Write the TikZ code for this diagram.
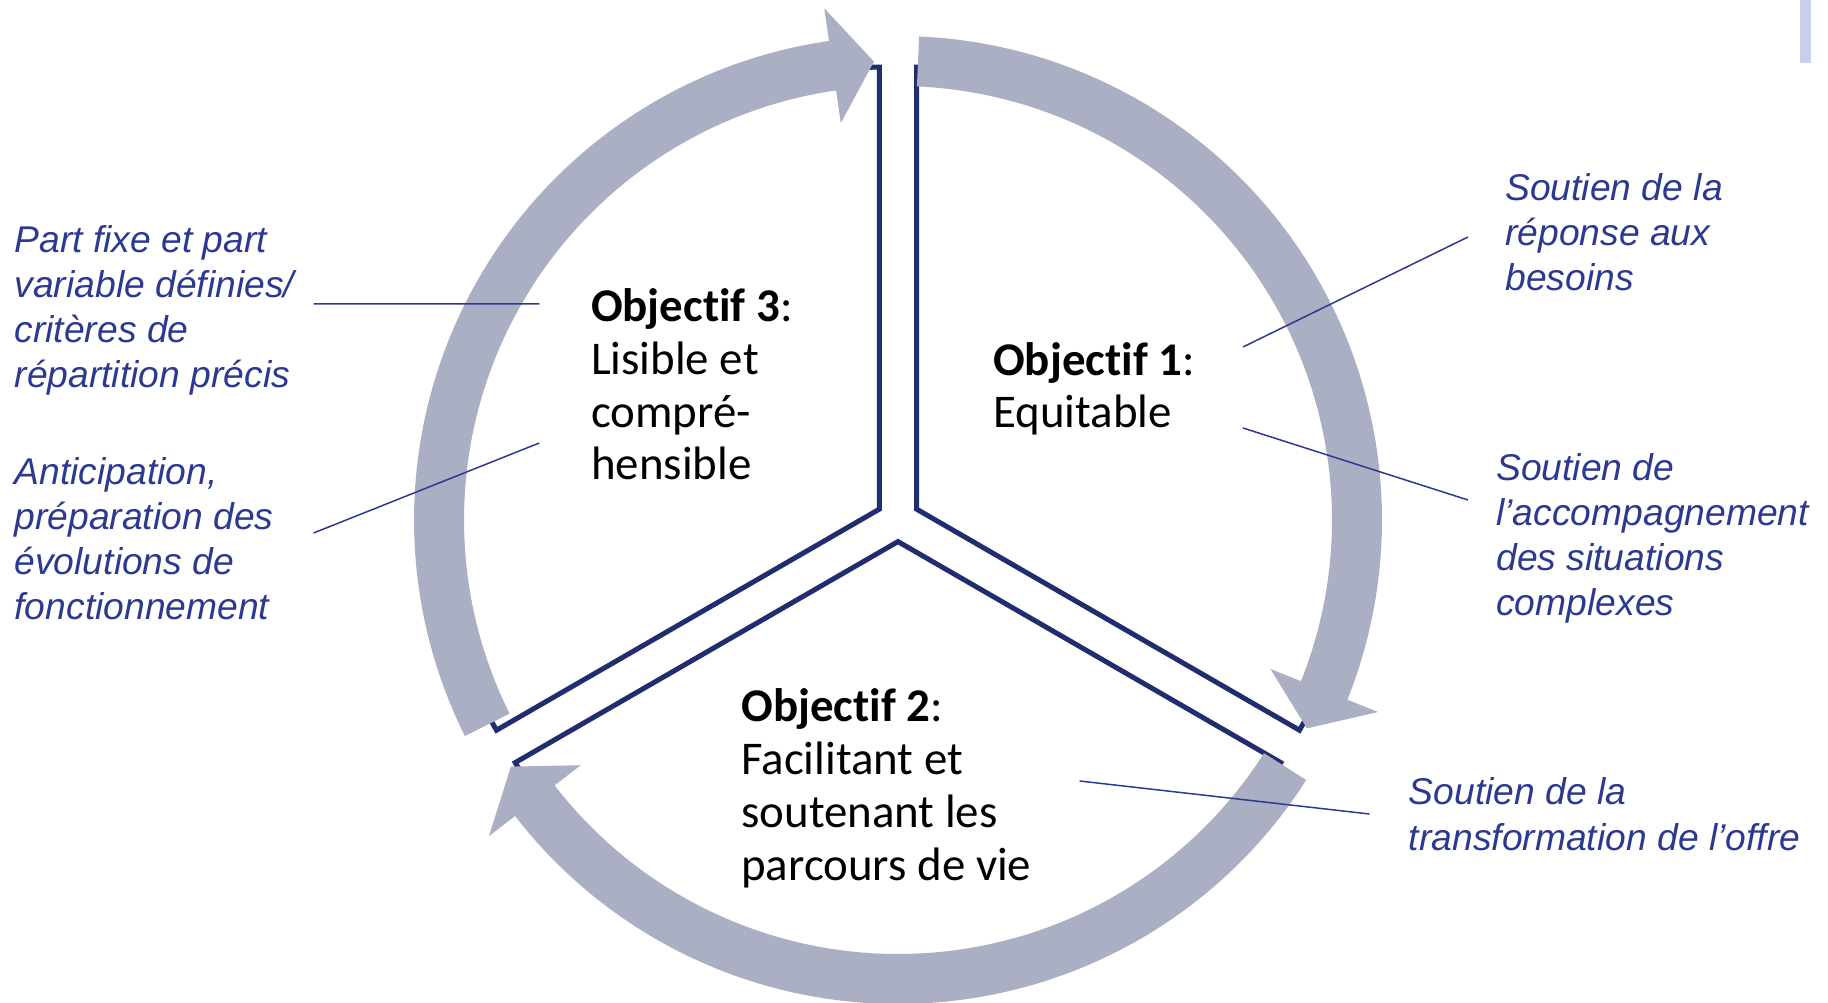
\documentclass[tikz,border=0pt]{standalone}
\usepackage{fontspec}
\setmainfont{Carlito}[Ligatures=CommonOff]
\newfontfamily\notefont{Liberation Sans}
\usepackage{tikz}
\definecolor{navy}{RGB}{34,45,112}
\definecolor{notecol}{RGB}{43,57,144}
\definecolor{ringgray}{RGB}{171,175,195}
\definecolor{tabbar}{RGB}{201,206,236}

% curved arrow on the ring: start angle, tip angle (clockwise)
\newcommand{\ringarrow}[2]{%
\fill[ringgray] (#1:484) arc[start angle=#1, end angle=#2+5.2, radius=484]
 -- (#2+5.2:517) -- (#2:459) -- (#2+5.2:401) -- (#2+5.2:434)
 arc[start angle=#2+5.2, end angle=#1, radius=434] -- cycle;}

\begin{document}
\begin{tikzpicture}[x=0.02cm, y=0.02cm,
	sector/.style={draw=navy, line width=2.85pt},
	goal/.style={anchor=base west, inner sep=0pt, align=left, font=\fontsize{26.7}{30.1}\selectfont},
	note/.style={anchor=base west, inner sep=0pt, align=left, text=notecol, font=\notefont\itshape\fontsize{21.2}{25.7}\selectfont},
	link/.style={draw=notecol, line width=0.85pt}]
\useasboundingbox (-898,-483) rectangle (930,520);
\fill[tabbar] (902,520) rectangle (913,457);

\draw[sector] (30:21.6) -- ++(90:442) arc[start angle=90, end angle=-30, radius=442] -- cycle;
\draw[sector] (150:21.6) -- ++(210:442) arc[start angle=210, end angle=90, radius=442] -- cycle;
\draw[sector] (270:21.6) -- ++(330:442) arc[start angle=330, end angle=210, radius=442] -- cycle;

\ringarrow{87.5}{-27}
\ringarrow{-32.5}{-147.5}
\ringarrow{206.5}{93}

% nodes sit on the baseline of their last line
\node[goal] (obj3) at (-307.3,40) {\textbf{Objectif 3}:\\Lisible et\\compré-\\hensible};
\node[goal] (obj1) at (94.8,92) {\textbf{Objectif 1}:\\Equitable};
\node[goal] (obj2) at (-157,-360) {\textbf{Objectif 2}:\\Facilitant et\\soutenant les\\parcours de vie};

\node[note] (part) at (-883.7,132) {Part fixe et part\\variable définies/\\critères de\\répartition précis};
\node[note] (antic) at (-883.7,-100) {Anticipation,\\préparation des\\évolutions de\\fonctionnement};
\node[note] (besoin) at (607,229) {Soutien de la\\réponse aux\\besoins};
\node[note] (accomp) at (598,-96) {Soutien de\\l’accompagnement\\des situations\\complexes};
\node[note] (offre) at (510.6,-330) {Soutien de la\\transformation de l’offre};

\coordinate (p1) at (-584.4,216); \coordinate (q1) at (-358.7,216);
\coordinate (p2) at (-584.4,-13); \coordinate (q2) at (-358.7,77);
\coordinate (p3) at (345,173); \coordinate (q3) at (570,283);
\coordinate (p4) at (345,92); \coordinate (q4) at (570,20);
\coordinate (p5) at (181.6,-261); \coordinate (q5) at (471.5,-294);
\path[link] (p1) -- (q1) (p2) -- (q2) (p3) -- (q3) (p4) -- (q4) (p5) -- (q5);
\end{tikzpicture}
\end{document}
